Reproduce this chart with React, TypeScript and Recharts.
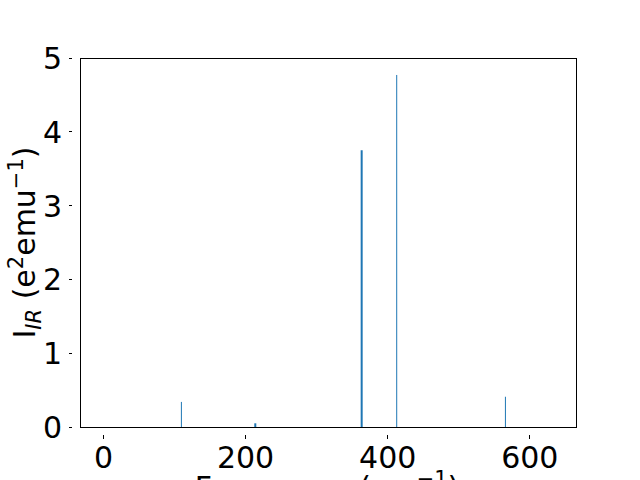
import React from "react";
import { ComposedChart, Bar, XAxis, YAxis, ReferenceArea } from "recharts";

const frequencies = [109, 213, 362.7, 412, 565];
const intensities = [0.34, 0.05, 3.75, 4.77, 0.41];
const xTicks = [0, 200, 400, 600];
const yTicks = [0, 1, 2, 3, 4, 5];
const barWidths = [1, 2, 2, 1, 1];

const data = frequencies.map((f, i) => ({ f, v: intensities[i], w: barWidths[i] }));

const FONT = "DejaVu Sans";
const BLUE = "#1f77b4";

const XTick = (props: any) => {
  const { x, y, payload } = props;
  return (
    <g>
      <line x1={x} x2={x} y1={y} y2={y + 3.5} stroke="#000" strokeWidth={1} shapeRendering="crispEdges" />
      <text x={x} y={y + 33} textAnchor="middle" fontFamily={FONT} fontSize={30} fill="#000">
        {payload.value}
      </text>
    </g>
  );
};

const YTick = (props: any) => {
  const { x, y, payload } = props;
  return (
    <g>
      <line x1={x - 3.5} x2={x} y1={y} y2={y} stroke="#000" strokeWidth={1} shapeRendering="crispEdges" />
      <text x={x - 10} y={y + 11} textAnchor="end" fontFamily={FONT} fontSize={30} fill="#000">
        {payload.value}
      </text>
    </g>
  );
};

const BarShape = (props: any) => {
  const { x, y, width, height, payload } = props;
  const w = payload.w;
  const cx = x + width / 2;
  return <rect x={cx - w / 2} y={y} width={w} height={height} fill={BLUE} />;
};

export default function App() {
  return (
    <div style={{ position: "absolute", left: 0, top: 0, width: 640, height: 480, background: "#fff", overflow: "hidden" }}>
      <ComposedChart width={640} height={480} data={data} margin={{ top: 58, right: 64, bottom: 0, left: 0 }}>
        <XAxis
          dataKey="f"
          type="number"
          domain={[-33, 665]}
          ticks={xTicks}
          allowDataOverflow
          height={53}
          axisLine={false}
          tickLine={false}
          tick={<XTick />}
          interval={0}
        />
        <YAxis
          type="number"
          domain={[0, 5]}
          ticks={yTicks}
          width={80}
          axisLine={false}
          tickLine={false}
          tick={<YTick />}
          interval={0}
        />
        <Bar dataKey="v" barSize={2} shape={<BarShape />} isAnimationActive={false} />
        <ReferenceArea
          x1={-33}
          x2={665}
          y1={0}
          y2={5}
          fill="none"
          fillOpacity={0}
          stroke="#000"
          strokeWidth={1}
          strokeOpacity={1}
          shapeRendering="crispEdges"
          ifOverflow="visible"
        />
        <text x={327} y={498} textAnchor="middle" fontFamily={FONT} fontSize={30} fill="#000">
          Frequency (cm<tspan dy={-12} fontSize={21}>−1</tspan><tspan dy={12}>)</tspan>
        </text>
        <text
          x={0}
          y={0}
          transform="translate(35,242.5) rotate(-90)"
          textAnchor="middle"
          fontFamily={FONT}
          fontSize={30}
          fill="#000"
        >
          I<tspan dy={6} fontSize={21} fontStyle="italic">IR</tspan>
          <tspan dy={-6}> (e</tspan>
          <tspan dy={-12} fontSize={21}>2</tspan>
          <tspan dy={12}>emu</tspan>
          <tspan dy={-12} fontSize={21}>−1</tspan>
          <tspan dy={12}>)</tspan>
        </text>
      </ComposedChart>
    </div>
  );
}
